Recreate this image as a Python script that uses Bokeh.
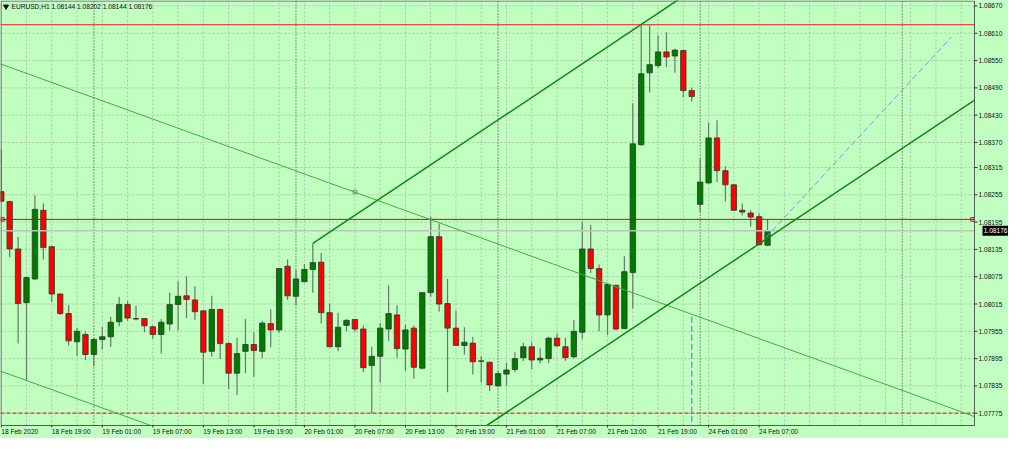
from bokeh.plotting import figure
from bokeh.models import Range1d, ColumnDataSource
from bokeh.core.properties import value
from bokeh.embed import file_html
from bokeh.resources import INLINE

# ---------------- data (EURUSD H1) ----------------
opens = [1.08262, 1.08240, 1.08136, 1.08018, 1.08070, 1.08221, 1.08141, 1.08037, 1.07994, 1.07932,
         1.07948, 1.07904, 1.07937, 1.07943, 1.07976, 1.08014, 1.07983, 1.07983, 1.07965, 1.07948,
         1.07971, 1.08014, 1.08033, 1.08024, 1.08000, 1.07911, 1.08003, 1.07928, 1.07863, 1.07911,
         1.07926, 1.07911, 1.07972, 1.07958, 1.08098, 1.08032, 1.08064, 1.08091, 1.08107, 1.07996,
         1.07921, 1.07968, 1.07981, 1.07960, 1.07880, 1.07900, 1.07960, 1.07991, 1.07916, 1.07962,
         1.07874, 1.08040, 1.08163, 1.08016, 1.07962, 1.07924, 1.07929, 1.07889, 1.07887, 1.07835,
         1.07861, 1.07871, 1.07897, 1.07921, 1.07892, 1.07895, 1.07940, 1.07921, 1.07899, 1.07953,
         1.08136, 1.08093, 1.07991, 1.08056, 1.07961, 1.08084, 1.08365, 1.08523, 1.08539, 1.08569,
         1.08560, 1.08572, 1.08484, 1.08234, 1.08281, 1.08380, 1.08308, 1.08277, 1.08221, 1.08215,
         1.08207, 1.08144]
highs = [1.08355, 1.08242, 1.08162, 1.08075, 1.08254, 1.08236, 1.08143, 1.08038, 1.08013, 1.07962,
         1.07954, 1.07940, 1.07965, 1.07987, 1.08031, 1.08021, 1.08011, 1.07984, 1.07968, 1.07982,
         1.08040, 1.08065, 1.08076, 1.08054, 1.08001, 1.08033, 1.08005, 1.07931, 1.07941, 1.07982,
         1.07953, 1.07978, 1.08003, 1.08094, 1.08113, 1.08090, 1.08103, 1.08148, 1.08127, 1.08016,
         1.07996, 1.07982, 1.07982, 1.07968, 1.07921, 1.07973, 1.08056, 1.08012, 1.07969, 1.07968,
         1.08041, 1.08207, 1.08192, 1.08070, 1.08001, 1.07964, 1.07943, 1.07900, 1.07888, 1.07867,
         1.07886, 1.07909, 1.07930, 1.07931, 1.07918, 1.07943, 1.07950, 1.07941, 1.07980, 1.08196,
         1.08189, 1.08102, 1.08060, 1.08058, 1.08120, 1.08456, 1.08630, 1.08627, 1.08605, 1.08612,
         1.08576, 1.08574, 1.08491, 1.08334, 1.08414, 1.08419, 1.08318, 1.08278, 1.08236, 1.08221,
         1.08214, 1.08202]
lows = [1.08238, 1.08118, 1.07928, 1.07846, 1.08068, 1.08113, 1.08019, 1.07991, 1.07924, 1.07901,
        1.07892, 1.07878, 1.07915, 1.07921, 1.07966, 1.07978, 1.07979, 1.07953, 1.07938, 1.07906,
        1.07957, 1.07957, 1.07984, 1.07980, 1.07840, 1.07899, 1.07894, 1.07828, 1.07815, 1.07863,
        1.07855, 1.07895, 1.07920, 1.07952, 1.08024, 1.08013, 1.08062, 1.08040, 1.07972, 1.07920,
        1.07911, 1.07955, 1.07954, 1.07865, 1.07774, 1.07842, 1.07934, 1.07897, 1.07868, 1.07851,
        1.07871, 1.08031, 1.07998, 1.07821, 1.07923, 1.07904, 1.07860, 1.07842, 1.07824, 1.07833,
        1.07835, 1.07865, 1.07890, 1.07871, 1.07885, 1.07885, 1.07921, 1.07890, 1.07895, 1.07938,
        1.08083, 1.07955, 1.07947, 1.07957, 1.07960, 1.08005, 1.08363, 1.08480, 1.08534, 1.08536,
        1.08523, 1.08470, 1.08460, 1.08217, 1.08280, 1.08283, 1.08240, 1.08220, 1.08210, 1.08185,
        1.08144, 1.08144]
closes = [1.08241, 1.08136, 1.08016, 1.08073, 1.08223, 1.08139, 1.08037, 1.07994, 1.07934, 1.07955,
          1.07904, 1.07937, 1.07943, 1.07975, 1.08014, 1.07984, 1.07982, 1.07967, 1.07948, 1.07975,
          1.08014, 1.08032, 1.08025, 1.07998, 1.07909, 1.08003, 1.07928, 1.07863, 1.07906, 1.07926,
          1.07913, 1.07973, 1.07958, 1.08093, 1.08033, 1.08070, 1.08091, 1.08106, 1.07996, 1.07921,
          1.07964, 1.07979, 1.07960, 1.07875, 1.07900, 1.07962, 1.07994, 1.07917, 1.07958, 1.07876,
          1.08040, 1.08163, 1.08015, 1.07962, 1.07924, 1.07931, 1.07888, 1.07890, 1.07837, 1.07862,
          1.07870, 1.07895, 1.07921, 1.07892, 1.07896, 1.07940, 1.07923, 1.07897, 1.07955, 1.08136,
          1.08093, 1.07991, 1.08058, 1.07960, 1.08086, 1.08367, 1.08521, 1.08541, 1.08569, 1.08558,
          1.08573, 1.08484, 1.08471, 1.08283, 1.08380, 1.08308, 1.08277, 1.08221, 1.08217, 1.08206,
          1.08145, 1.08176]

time_label_idx = [0, 6, 12, 18, 24, 30, 36, 42, 48, 54, 60, 66, 72, 78, 84, 90]
time_labels = ["18 Feb 2020", "18 Feb 19:00", "19 Feb 01:00", "19 Feb 07:00", "19 Feb 13:00",
               "19 Feb 19:00", "20 Feb 01:00", "20 Feb 07:00", "20 Feb 13:00", "20 Feb 19:00",
               "21 Feb 01:00", "21 Feb 07:00", "21 Feb 13:00", "21 Feb 19:00", "24 Feb 01:00",
               "24 Feb 07:00"]
day_separator_idx = [11, 35, 59, 83, 107]
price_ticks = [1.08670, 1.08610, 1.08550, 1.08490, 1.08430, 1.08370, 1.08315, 1.08255,
               1.08195, 1.08135, 1.08075, 1.08015, 1.07955, 1.07895, 1.07835, 1.07775]

# drawn objects on the chart
red_levels = [1.08629, 1.08201, 1.07775]
bid_price = closes[-1]
thin_slope = -6.70e-5                      # price per bar
thin_intercepts = [1.08542, 1.07867]       # price at bar 0
thin_anchor = (42, 1.08261)
chan_start_idx = 37
chan_start_price = 1.08148
chan_slope = 1.2343e-4                     # price per bar
chan_width = 0.00655
blue_ray_x = [90.8, 112.8]
blue_ray_y = [1.08161, 1.08601]
vline_idx = 82
vline_top = 1.07987
header = "EURUSD,H1  1.08144 1.08202 1.08144 1.08176"

# ---------------- layout / style ----------------
W, H = 1008, 438
AX_W, AX_H = 34, 13                       # right price scale, bottom time scale (px)
x_lo, x_hi = -0.09, 115.58
y_lo, y_hi = 1.07748, 1.08682
chart_w, chart_h = W - AX_W, H - AX_H
bpp = (x_hi - x_lo) / chart_w             # bars per pixel
ppp = (y_hi - y_lo) / chart_h             # price per pixel
X_END = x_hi + AX_W * bpp
Y_START = y_lo - AX_H * ppp

BG = "#c1ffc1"
GRID = "#a8c2a8"
BORDER = "#4f5f4f"
TXT = "#111111"
FONT = value("Liberation Sans")
FS = "6.6px"

p = figure(width=W, height=H, x_range=Range1d(x_lo, X_END), y_range=Range1d(Y_START, y_hi),
           output_backend="svg", toolbar_location=None,
           x_axis_location=None, y_axis_location=None, min_border=0)
p.grid.visible = False
p.outline_line_color = None
p.background_fill_color = BG
p.border_fill_color = BG

# grid (dotted)
gx = list(range(0, int(x_hi) + 1, 3))
p.segment(x0=gx, y0=[y_lo] * len(gx), x1=gx, y1=[y_hi] * len(gx),
          line_color=GRID, line_dash="2 2", line_width=1)
p.segment(x0=[x_lo] * len(price_ticks), y0=price_ticks, x1=[x_hi] * len(price_ticks), y1=price_ticks,
          line_color=GRID, line_dash="2 2", line_width=1)

# day separators
p.segment(x0=day_separator_idx, y0=[y_lo] * len(day_separator_idx),
          x1=day_separator_idx, y1=[y_hi] * len(day_separator_idx),
          line_color="#333333", line_dash="1 2", line_width=1)

# candles
idx = list(range(len(opens)))
src = ColumnDataSource(dict(
    x=idx, h=highs, l=lows,
    top=[max(o, c) for o, c in zip(opens, closes)],
    bot=[min(o, c) for o, c in zip(opens, closes)],
    color=["#007a00" if c >= o else "#ff0000" for o, c in zip(opens, closes)],
))
p.segment("x", "h", "x", "l", source=src, line_color="#6a766a", line_width=1.2)
p.vbar(x="x", top="top", bottom="bot", width=0.64, fill_color="color",
       line_color="#2c382c", line_width=0.8, source=src)

# bid line
p.segment(x0=[x_lo], y0=[bid_price], x1=[x_hi], y1=[bid_price], line_color="#b9c6b9", line_width=1.5)

# horizontal red levels
p.segment(x0=[x_lo], y0=[red_levels[0]], x1=[x_hi], y1=[red_levels[0]], line_color="#f04848", line_width=1.4)
p.segment(x0=[x_lo], y0=[red_levels[1]], x1=[x_hi], y1=[red_levels[1]], line_color="#dd0000", line_width=1)
p.segment(x0=[x_lo], y0=[red_levels[2]], x1=[x_hi], y1=[red_levels[2]], line_color="#f04848",
          line_width=1.4, line_dash="4 2")
p.scatter([x_lo + 2 * bpp, x_hi - 2 * bpp], [red_levels[1]] * 2, marker="square", size=3.5,
          fill_color=None, line_color="#dd0000", line_width=1)

# thin descending parallel lines
p.segment(x0=[x_lo] * 2, y0=[b + thin_slope * x_lo for b in thin_intercepts],
          x1=[x_hi] * 2, y1=[b + thin_slope * x_hi for b in thin_intercepts],
          line_color="#3fae3f", line_width=1)
p.scatter([thin_anchor[0]], [thin_anchor[1]], marker="square", size=3.5,
          fill_color=None, line_color="#6f8f6f", line_width=1)

# thick ascending equidistant channel (rays to the right)
for off in (0.0, -chan_width):
    p.line([chan_start_idx, X_END],
           [chan_start_price + off, chan_start_price + off + chan_slope * (X_END - chan_start_idx)],
           line_color="#0a8a0a", line_width=1.5)

# blue dashed lines
p.line(blue_ray_x, blue_ray_y, line_color="#6f9be0", line_width=1, line_dash="6 3")
p.segment([vline_idx], [vline_top], [vline_idx], [Y_START], line_color="#6f9be0",
          line_width=1.5, line_dash="6 3")

# masks over the scale areas (keeps chart objects inside the chart window)
p.quad(left=[x_hi], right=[X_END + 1], bottom=[Y_START - 0.001], top=[y_hi + 0.001],
       fill_color=BG, line_color=None)
p.quad(left=[x_lo - 1], right=[x_hi], bottom=[Y_START - 0.001], top=[y_lo],
       fill_color=BG, line_color=None)

# chart window border
p.quad(left=[x_lo + 0.5 * bpp], right=[x_hi], bottom=[y_lo], top=[y_hi - 0.5 * ppp],
       fill_color=None, line_color=BORDER, line_width=1)

# price scale: ticks + labels
p.segment(x0=[x_hi] * len(price_ticks), y0=price_ticks,
          x1=[x_hi + 3 * bpp] * len(price_ticks), y1=price_ticks, line_color="#333333", line_width=1)
p.text(x=[x_hi] * len(price_ticks), y=price_ticks, text=["%.5f" % v for v in price_ticks],
       x_offset=4, text_align="left", text_baseline="middle", text_font=FONT,
       text_font_size=FS, text_color=TXT)

# current price tag (flush with the right edge)
p.quad(left=[x_hi + 8 * bpp], right=[X_END], bottom=[bid_price - 5 * ppp], top=[bid_price + 5 * ppp],
       fill_color="black", line_color=None)
p.text(x=[X_END - 1 * bpp], y=[bid_price], text=["%.5f" % bid_price], text_align="right",
       text_baseline="middle", text_font=FONT, text_font_size=FS, text_color="white")

# time scale: ticks + left-aligned labels
p.segment(x0=time_label_idx, y0=[y_lo] * len(time_label_idx),
          x1=time_label_idx, y1=[y_lo - 2 * ppp] * len(time_label_idx),
          line_color="#333333", line_width=1)
p.text(x=time_label_idx, y=[y_lo - 2.5 * ppp] * len(time_label_idx), text=time_labels,
       text_align="left", text_baseline="top", text_font=FONT, text_font_size=FS, text_color=TXT)

# header
p.scatter([x_lo + 5.5 * bpp], [y_hi - 6 * ppp], marker="inverted_triangle", size=5,
          fill_color=TXT, line_color=TXT)
p.text(x=[x_lo + 11 * bpp], y=[y_hi - 2.5 * ppp], text=[header], text_align="left",
       text_baseline="top", text_font=FONT, text_font_size=FS, text_color=TXT)

open("out.html", "w").write(file_html(p, INLINE))
